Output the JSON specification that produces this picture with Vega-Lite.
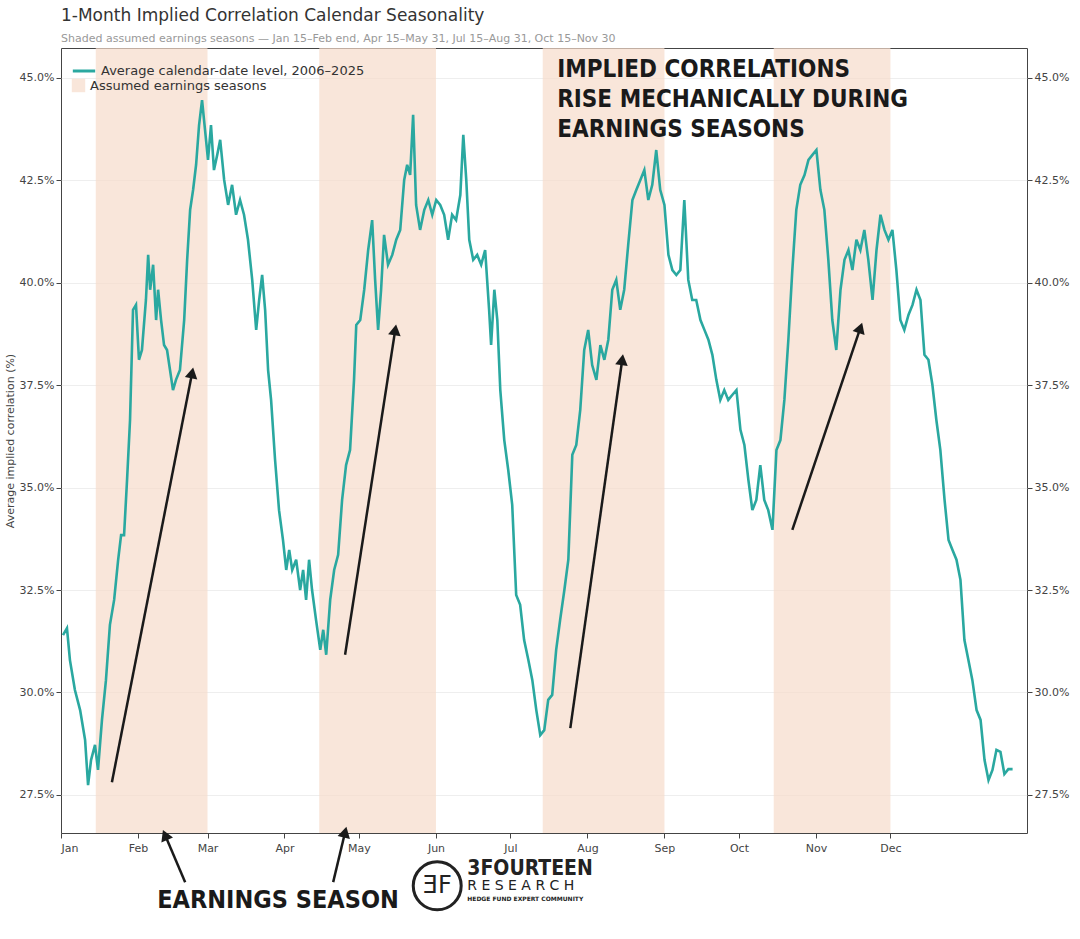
{
  "$schema": "https://vega.github.io/schema/vega-lite/v6.json",
  "width": 966,
  "height": 785,
  "autosize": "none",
  "padding": {"left": 61, "top": 48, "right": 53, "bottom": 106},
  "background": "white",
  "title": {
    "text": "1-Month Implied Correlation Calendar Seasonality",
    "subtitle": "Shaded  assumed earnings seasons — Jan 15–Feb end, Apr 15–May 31, Jul 15–Aug 31, Oct 15–Nov 30",
    "anchor": "start",
    "frame": "group",
    "offset": 3,
    "fontSize": 17,
    "fontWeight": "normal",
    "color": "#333",
    "subtitleFontSize": 11,
    "subtitleColor": "#999",
    "subtitlePadding": 8,
    "font": "DejaVu Sans",
    "subtitleFont": "DejaVu Sans"
  },
  "config": {
    "font": "DejaVu Sans",
    "view": {"stroke": "#444", "strokeWidth": 1},
    "axis": {"labelColor": "#444", "labelFontSize": 11, "tickColor": "#444", "domain": false, "titleFontWeight": "normal", "titleColor": "#444", "titleFontSize": 11}
  },
  "datasets": {
    "line": [
      {"day":0.8,"v":31.40},{"day":2.4,"v":31.57},{"day":3.6,"v":30.79},{"day":5.6,"v":30.06},{"day":7.7,"v":29.57},{"day":9.7,"v":28.84},{"day":10.9,"v":27.74},{"day":12.1,"v":28.35},{"day":13.7,"v":28.72},{"day":14.9,"v":28.11},{"day":16.5,"v":29.33},{"day":18.1,"v":30.30},{"day":19.7,"v":31.65},{"day":21.4,"v":32.26},{"day":23.0,"v":33.23},{"day":24.2,"v":33.84},{"day":25.4,"v":33.84},{"day":26.6,"v":35.19},{"day":27.8,"v":36.65},{"day":29.0,"v":39.34},{"day":30.2,"v":39.46},{"day":31.4,"v":38.12},{"day":32.6,"v":38.36},{"day":34.2,"v":39.58},{"day":35.1,"v":40.68},{"day":35.9,"v":39.83},{"day":37.1,"v":40.44},{"day":38.3,"v":39.09},{"day":39.1,"v":39.83},{"day":40.3,"v":39.09},{"day":41.5,"v":38.48},{"day":42.7,"v":38.36},{"day":43.9,"v":37.87},{"day":45.1,"v":37.38},{"day":46.3,"v":37.63},{"day":47.9,"v":37.87},{"day":49.6,"v":39.09},{"day":50.8,"v":40.56},{"day":52.0,"v":41.78},{"day":53.2,"v":42.27},{"day":54.4,"v":42.88},{"day":55.6,"v":43.85},{"day":56.8,"v":44.46},{"day":58.0,"v":43.73},{"day":59.2,"v":43.00},{"day":60.4,"v":43.85},{"day":61.6,"v":42.75},{"day":62.9,"v":43.12},{"day":64.1,"v":43.49},{"day":65.7,"v":42.51},{"day":67.3,"v":41.90},{"day":68.9,"v":42.39},{"day":70.5,"v":41.66},{"day":72.1,"v":42.02},{"day":73.7,"v":41.66},{"day":75.3,"v":41.05},{"day":77.0,"v":40.07},{"day":78.6,"v":38.85},{"day":79.8,"v":39.58},{"day":81.0,"v":40.19},{"day":82.2,"v":39.34},{"day":83.4,"v":37.87},{"day":84.6,"v":37.14},{"day":86.2,"v":35.68},{"day":87.8,"v":34.45},{"day":89.4,"v":33.72},{"day":90.7,"v":32.99},{"day":91.9,"v":33.48},{"day":93.1,"v":32.99},{"day":94.7,"v":33.24},{"day":96.3,"v":32.50},{"day":97.5,"v":32.99},{"day":98.7,"v":32.26},{"day":99.9,"v":33.24},{"day":101.1,"v":32.50},{"day":102.7,"v":31.77},{"day":104.4,"v":31.04},{"day":105.6,"v":31.53},{"day":106.8,"v":30.92},{"day":108.4,"v":32.26},{"day":110.0,"v":32.99},{"day":111.6,"v":33.36},{"day":113.2,"v":34.70},{"day":114.8,"v":35.55},{"day":116.4,"v":35.92},{"day":118.0,"v":37.63},{"day":118.9,"v":38.97},{"day":120.5,"v":39.09},{"day":122.1,"v":39.83},{"day":123.7,"v":40.80},{"day":125.3,"v":41.53},{"day":126.5,"v":40.07},{"day":127.7,"v":38.85},{"day":128.9,"v":39.83},{"day":130.1,"v":41.17},{"day":131.7,"v":40.44},{"day":133.4,"v":40.68},{"day":135.0,"v":41.05},{"day":136.6,"v":41.29},{"day":138.2,"v":42.51},{"day":139.4,"v":42.88},{"day":140.6,"v":42.63},{"day":141.8,"v":44.10},{"day":143.0,"v":41.90},{"day":144.6,"v":41.29},{"day":146.3,"v":41.78},{"day":147.9,"v":42.02},{"day":149.5,"v":41.66},{"day":151.1,"v":42.02},{"day":152.7,"v":41.90},{"day":154.3,"v":41.66},{"day":155.9,"v":41.05},{"day":157.5,"v":41.66},{"day":159.1,"v":41.53},{"day":160.8,"v":42.14},{"day":162.0,"v":43.61},{"day":163.2,"v":42.51},{"day":164.4,"v":41.05},{"day":166.0,"v":40.56},{"day":167.6,"v":40.68},{"day":169.2,"v":40.44},{"day":170.8,"v":40.80},{"day":172.4,"v":39.34},{"day":173.2,"v":38.48},{"day":174.5,"v":39.83},{"day":175.7,"v":39.09},{"day":176.9,"v":37.38},{"day":178.5,"v":36.16},{"day":180.1,"v":35.43},{"day":181.7,"v":34.58},{"day":183.3,"v":32.38},{"day":184.9,"v":32.14},{"day":186.5,"v":31.28},{"day":188.2,"v":30.79},{"day":189.8,"v":30.30},{"day":191.4,"v":29.57},{"day":193.0,"v":28.96},{"day":194.6,"v":29.08},{"day":196.2,"v":29.82},{"day":197.8,"v":29.94},{"day":199.4,"v":31.04},{"day":201.0,"v":31.77},{"day":202.7,"v":32.50},{"day":204.3,"v":33.24},{"day":205.9,"v":35.80},{"day":207.5,"v":36.04},{"day":209.1,"v":36.90},{"day":210.7,"v":38.36},{"day":212.3,"v":38.85},{"day":213.9,"v":37.99},{"day":215.6,"v":37.63},{"day":217.2,"v":38.48},{"day":218.8,"v":38.12},{"day":220.4,"v":38.61},{"day":222.0,"v":39.83},{"day":223.6,"v":40.07},{"day":225.2,"v":39.34},{"day":226.8,"v":39.83},{"day":228.4,"v":40.92},{"day":230.1,"v":42.02},{"day":231.7,"v":42.27},{"day":233.3,"v":42.51},{"day":234.9,"v":42.75},{"day":236.5,"v":42.02},{"day":238.1,"v":42.39},{"day":239.7,"v":43.24},{"day":241.3,"v":42.27},{"day":243.0,"v":41.90},{"day":244.6,"v":40.68},{"day":246.2,"v":40.31},{"day":247.8,"v":40.19},{"day":249.4,"v":40.31},{"day":251.0,"v":42.02},{"day":252.6,"v":40.07},{"day":254.2,"v":39.58},{"day":255.8,"v":39.58},{"day":257.5,"v":39.09},{"day":259.1,"v":38.85},{"day":260.7,"v":38.61},{"day":262.3,"v":38.24},{"day":263.9,"v":37.63},{"day":265.5,"v":37.14},{"day":267.1,"v":37.38},{"day":268.7,"v":37.14},{"day":270.3,"v":37.26},{"day":272.0,"v":37.38},{"day":273.6,"v":36.41},{"day":275.2,"v":36.04},{"day":276.8,"v":35.19},{"day":278.4,"v":34.45},{"day":280.0,"v":34.70},{"day":281.6,"v":35.55},{"day":283.2,"v":34.70},{"day":284.8,"v":34.45},{"day":286.5,"v":33.97},{"day":288.1,"v":35.92},{"day":289.7,"v":36.16},{"day":291.3,"v":37.14},{"day":292.9,"v":38.61},{"day":294.5,"v":40.31},{"day":296.1,"v":41.78},{"day":297.7,"v":42.39},{"day":299.4,"v":42.63},{"day":301.0,"v":43.00},{"day":302.6,"v":43.12},{"day":304.2,"v":43.24},{"day":305.8,"v":42.27},{"day":307.4,"v":41.78},{"day":309.0,"v":40.56},{"day":310.6,"v":39.09},{"day":312.2,"v":38.36},{"day":313.9,"v":39.83},{"day":315.5,"v":40.56},{"day":317.1,"v":40.80},{"day":318.7,"v":40.31},{"day":320.3,"v":41.05},{"day":321.9,"v":40.80},{"day":323.5,"v":41.29},{"day":325.1,"v":40.56},{"day":326.8,"v":39.58},{"day":328.4,"v":40.80},{"day":330.0,"v":41.66},{"day":331.6,"v":41.29},{"day":333.2,"v":41.05},{"day":334.8,"v":41.29},{"day":336.4,"v":40.31},{"day":338.0,"v":39.09},{"day":339.6,"v":38.85},{"day":341.3,"v":39.22},{"day":342.9,"v":39.46},{"day":344.5,"v":39.83},{"day":346.1,"v":39.58},{"day":347.7,"v":38.24},{"day":349.3,"v":38.12},{"day":350.9,"v":37.51},{"day":352.5,"v":36.65},{"day":354.1,"v":35.92},{"day":355.8,"v":34.70},{"day":357.4,"v":33.72},{"day":359.0,"v":33.48},{"day":360.6,"v":33.24},{"day":362.2,"v":32.75},{"day":363.8,"v":31.28},{"day":365.4,"v":30.79},{"day":367.0,"v":30.30},{"day":368.7,"v":29.57},{"day":370.3,"v":29.33},{"day":371.9,"v":28.35},{"day":373.5,"v":27.86},{"day":375.1,"v":28.11},{"day":376.7,"v":28.60},{"day":378.3,"v":28.55},{"day":379.9,"v":28.01},{"day":381.5,"v":28.13},{"day":383.2,"v":28.13}
    ],
    "seasons": [
      {"start":14,"end":59},{"start":104,"end":151},{"start":194,"end":243},{"start":287,"end":334}
    ],
    "arrows": [
      {"x":20.5,"y":27.81,"x2":52.8,"y2":37.80,"angle":11},
      {"x":114.4,"y":30.92,"x2":134.6,"y2":38.85,"angle":9},
      {"x":205.1,"y":29.13,"x2":226.0,"y2":38.12,"angle":8},
      {"x":294.5,"y":33.97,"x2":321.9,"y2":38.90,"angle":19},
      {"x":50.0,"y":25.37,"x2":41.9,"y2":26.52,"angle":-23},
      {"x":109.6,"y":25.37,"x2":114.4,"y2":26.59,"angle":14}
    ]
  },
  "encoding": {
    "x": {
      "type": "quantitative",
      "scale": {"domain": [0, 389], "nice": false, "zero": false},
      "axis": {
        "title": null, "grid": false,
        "values": [0,31,59,90,120,151,181,212,243,273,304,334],
        "labelExpr": "['Jan','Feb','Mar','Apr','May','Jun','Jul','Aug','Sep','Oct','Nov','Dec'][indexof([0,31,59,90,120,151,181,212,243,273,304,334], datum.value)]",
        "labelPadding": 4
      }
    }
  },
  "resolve": {"axis": {"y": "independent"}},
  "layer": [
    {
      "data": {"name": "seasons"},
      "mark": {"type": "rect", "opacity": 0.7},
      "encoding": {
        "x": {"field": "start"},
        "x2": {"field": "end"},
        "fill": {
          "datum": "Assumed earnings seasons",
          "type": "nominal",
          "scale": {"range": ["#f6dcca"]},
          "legend": {"title": null, "orient": "none", "legendX": 10, "legendY": 30, "symbolType": "square", "symbolSize": 180, "labelFontSize": 13, "labelColor": "#333", "labelLimit": 400, "symbolOpacity": 0.7}
        }
      }
    },
    {
      "data": {"name": "line"},
      "mark": {"type": "line", "strokeWidth": 2.6, "interpolate": "linear"},
      "encoding": {
        "x": {"field": "day"},
        "y": {
          "field": "v", "type": "quantitative",
          "scale": {"domain": [26.57, 45.73], "nice": false, "zero": false},
          "axis": {"title": "Average implied correlation (%)", "values": [27.5,30,32.5,35,37.5,40,42.5,45], "labelExpr": "format(datum.value,'.1f')+'%'", "grid": true, "gridColor": "#eee", "orient": "left"}
        },
        "stroke": {
          "datum": "Average calendar-date level, 2006–2025",
          "type": "nominal",
          "scale": {"range": ["#2aa8a0"]},
          "legend": {"title": null, "orient": "none", "legendX": 10, "legendY": 10, "symbolType": "stroke", "symbolStrokeWidth": 3, "symbolSize": 500, "labelFontSize": 13, "labelColor": "#333", "labelLimit": 400}
        }
      }
    },
    {
      "data": {"values": [{"v": 27.5}]},
      "mark": {"type": "point", "opacity": 0},
      "encoding": {
        "y": {
          "field": "v", "type": "quantitative",
          "axis": {"title": null, "values": [27.5,30,32.5,35,37.5,40,42.5,45], "labelExpr": "format(datum.value,'.1f')+'%'", "grid": false, "orient": "right"}
        }
      }
    },
    {
      "data": {"name": "arrows"},
      "mark": {"type": "rule", "strokeWidth": 2.5, "color": "#1a1a1a", "clip": false},
      "encoding": {
        "x": {"field": "x"}, "x2": {"field": "x2"},
        "y": {"field": "y", "type": "quantitative", "axis": null}, "y2": {"field": "y2"}
      }
    },
    {
      "data": {"name": "arrows"},
      "mark": {"type": "point", "shape": "triangle-up", "filled": true, "size": 160, "color": "#1a1a1a", "opacity": 1, "clip": false},
      "encoding": {
        "x": {"field": "x2"},
        "y": {"field": "y2", "type": "quantitative", "axis": null},
        "angle": {"field": "angle", "type": "quantitative", "scale": null}
      }
    },
    {
      "data": {"values": [{"x": 199.8, "y": 45.2, "t": "IMPLIED CORRELATIONS"}, {"x": 199.8, "y": 44.47, "t": "RISE MECHANICALLY DURING"}, {"x": 199.8, "y": 43.74, "t": "EARNINGS SEASONS"}]},
      "mark": {"type": "text", "align": "left", "baseline": "middle", "fontSize": 24, "fontWeight": "bold", "font": "DejaVu Sans Condensed", "color": "#1a1a1a", "clip": false},
      "encoding": {"x": {"field": "x"}, "y": {"field": "y", "type": "quantitative", "axis": null}, "text": {"field": "t"}}
    },
    {
      "data": {"values": [{"x": 87.4, "y": 24.93, "t": "EARNINGS SEASON"}]},
      "mark": {"type": "text", "align": "center", "baseline": "middle", "fontSize": 25, "fontWeight": "bold", "font": "DejaVu Sans Condensed", "color": "#1a1a1a", "clip": false},
      "encoding": {"x": {"field": "x"}, "y": {"field": "y", "type": "quantitative", "axis": null}, "text": {"field": "t"}}
    },
    {
      "data": {"values": [{"x": 151.5, "y": 25.28}]},
      "mark": {"type": "point", "shape": "circle", "size": 2300, "stroke": "#222", "strokeWidth": 3, "filled": false, "opacity": 1, "clip": false},
      "encoding": {"x": {"field": "x"}, "y": {"field": "y", "type": "quantitative", "axis": null}}
    },
    {
      "data": {"values": [{"x": 151.5, "y": 25.28, "t": "ƎF"}]},
      "mark": {"type": "text", "align": "center", "baseline": "middle", "fontSize": 24, "color": "#222", "clip": false},
      "encoding": {"x": {"field": "x"}, "y": {"field": "y", "type": "quantitative", "axis": null}, "text": {"field": "t"}}
    },
    {
      "data": {"values": [{"x": 163.6, "y": 25.68, "t": "3FOURTEEN"}]},
      "mark": {"type": "text", "align": "left", "baseline": "middle", "fontSize": 21, "fontWeight": "bold", "font": "DejaVu Sans Condensed", "color": "#222", "clip": false},
      "encoding": {"x": {"field": "x"}, "y": {"field": "y", "type": "quantitative", "axis": null}, "text": {"field": "t"}}
    },
    {
      "data": {"values": [{"x": 163.6, "y": 25.28, "t": "R E S E A R C H"}]},
      "mark": {"type": "text", "align": "left", "baseline": "middle", "fontSize": 14, "color": "#222", "clip": false},
      "encoding": {"x": {"field": "x"}, "y": {"field": "y", "type": "quantitative", "axis": null}, "text": {"field": "t"}}
    },
    {
      "data": {"values": [{"x": 163.6, "y": 24.97, "t": "HEDGE FUND EXPERT COMMUNITY"}]},
      "mark": {"type": "text", "align": "left", "baseline": "middle", "fontSize": 6, "fontWeight": "bold", "color": "#222", "clip": false},
      "encoding": {"x": {"field": "x"}, "y": {"field": "y", "type": "quantitative", "axis": null}, "text": {"field": "t"}}
    }
  ]
}
